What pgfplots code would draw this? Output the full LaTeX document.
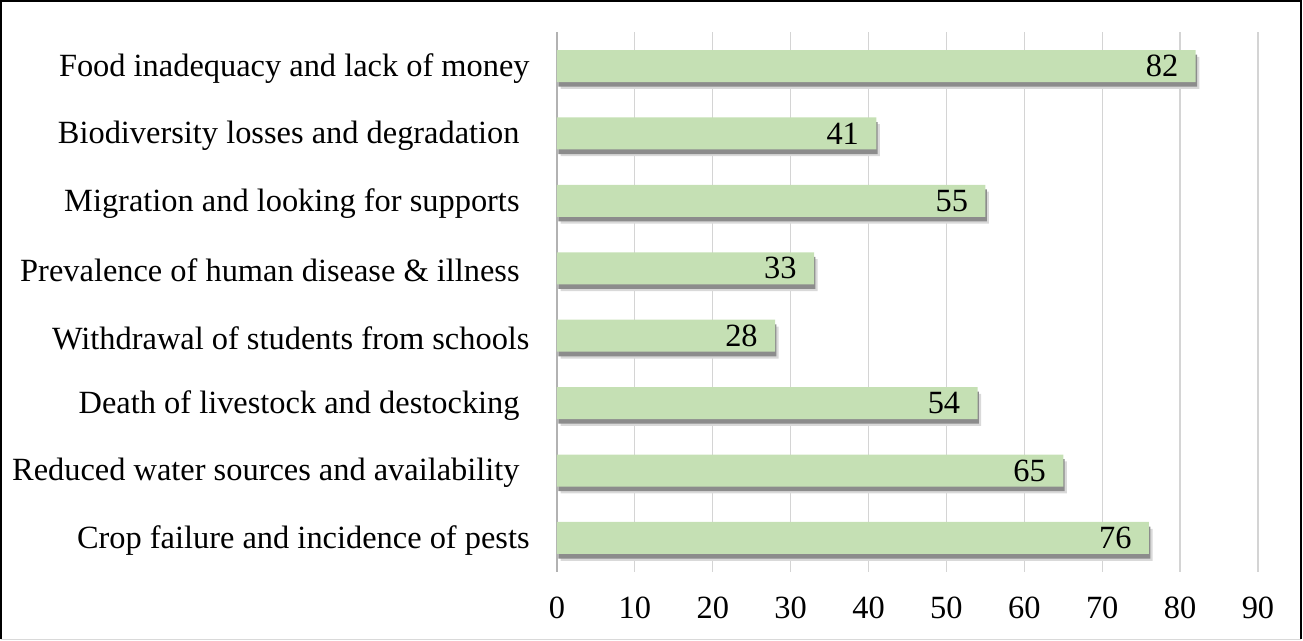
\documentclass[border=0pt]{standalone}
\usepackage{fontspec}
\setmainfont{Liberation Serif}
\usepackage{pgfplots}
\pgfplotsset{compat=1.18}
\definecolor{barfill}{HTML}{C5E0B4}
\definecolor{gridc}{HTML}{D4D4D4}
\newcommand{\tsp}{\kern5pt\null}
\begin{document}
\begin{tikzpicture}
\useasboundingbox (-278.5pt,-34.65pt) rectangle (373pt,285.85pt);
\begin{axis}[
  at={(0pt,0pt)}, anchor=south west,
  scale only axis,
  width=350.5pt, height=269.7pt,
  xmin=0, xmax=90,
  ymin=-0.5, ymax=7.5,
  xtick={0,10,...,90},
  ytick={0,...,7},
  yticklabels={
    Crop failure and incidence of pests,
    Reduced water sources and availability\tsp,
    Death of livestock and destocking\tsp,
    Withdrawal of students from schools,
    Prevalence of human disease \& illness\tsp,
    Migration and looking for supports\tsp,
    Biodiversity losses and degradation\tsp,
    Food inadequacy and lack of money},
  xmajorgrids,
  grid style={draw=gridc, line width=0.6pt},
  axis lines=left,
  axis line style={-},
  x axis line style={draw=none},
  y axis line style={draw=black!30, line width=0.7pt},
  major tick length=0pt,
  /pgf/number format/assume math mode=true,
  tick label style={font=\fontsize{16.2}{19}\selectfont, inner sep=0pt},
  yticklabel style={xshift=-13.5pt, yshift=-1.2pt},
  xticklabel style={yshift=-12.5pt},
  xbar, bar width=16pt,
  clip=false,
]
\addplot[xbar, bar shift=-3.4pt, draw=none, fill=black!15, forget plot,
  transform canvas={xshift=1.8pt}] coordinates {
  (76,0) (65,1) (54,2) (28,3) (33,4) (55,5) (41,6) (82,7)};
\addplot[xbar, bar shift=-2.3pt, draw=none, fill=black!45, forget plot,
  transform canvas={xshift=0.7pt}] coordinates {
  (76,0) (65,1) (54,2) (28,3) (33,4) (55,5) (41,6) (82,7)};
\addplot[xbar, bar shift=0pt, draw=none, fill=barfill,
  nodes near coords,
  every node near coord/.append style={anchor=east, xshift=-8.5pt, inner sep=0pt,
    font=\fontsize{16.2}{19}\selectfont, text=black},
  ] coordinates {
  (76,0) (65,1) (54,2) (28,3) (33,4) (55,5) (41,6) (82,7)};
\end{axis}
\draw[black, line width=1pt] (-277.75pt,-33.9pt) -- (-277.75pt,285.1pt) -- (372pt,285.1pt) -- (372pt,-33.9pt);
\draw[black!15, line width=0.8pt] (-277.75pt,-33.9pt) -- (372pt,-33.9pt);
\end{tikzpicture}
\end{document}
